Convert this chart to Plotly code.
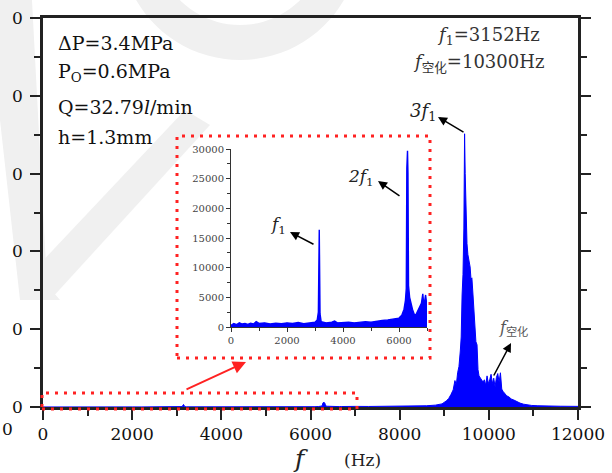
import math
import plotly.graph_objects as go

# ---- spectrum data (frequency in Hz, amplitude) ----
freq_low = [0, 100, 200, 300, 400, 500, 600, 700, 800, 900, 1000, 1200, 1400, 1600,
            1800, 2000, 2200, 2400, 2600, 2800, 3000, 3080, 3120, 3152, 3180, 3220,
            3400, 3600, 3700, 3800, 4000, 4200, 4400, 4600, 4800, 5000, 5200, 5400,
            5600, 5800, 6000, 6100, 6180, 6230, 6260, 6280, 6304, 6320, 6340, 6380,
            6420, 6480, 6540, 6600, 6650, 6700, 6750, 6800, 6850, 6880, 6920, 6950,
            6980, 7000]
amp_low = [300, 600, 400, 700, 500, 600, 450, 650, 500, 900, 600, 700, 500, 650,
           550, 700, 600, 750, 550, 700, 800, 1200, 2500, 16400, 2200, 900,
           700, 800, 1000, 700, 750, 800, 700, 850, 900, 800, 1000, 1100,
           1200, 1300, 1500, 2000, 3000, 4500, 6500, 26800, 29700, 26000, 7000, 5000,
           4000, 3000, 2200, 2000, 2500, 3000, 3500, 4000, 5600, 4000, 4500, 5400,
           4200, 4000]

freq_high = [7300, 7600, 7900, 8200, 8400, 8600, 8800, 8950, 9050, 9100, 9150, 9200,
             9240, 9270, 9300, 9330, 9360, 9380, 9400, 9420, 9440, 9456, 9470, 9490,
             9510, 9530, 9555, 9580, 9600, 9620, 9645, 9670, 9690, 9710, 9735, 9757,
             9780, 9810, 9840, 9870, 9900, 9930, 9960, 9990, 10020, 10050, 10080,
             10110, 10140, 10170, 10200, 10230, 10260, 10290, 10320, 10360, 10400,
             10450, 10500, 10560, 10620, 10700, 10780, 10870, 10960, 11100, 11300,
             11600, 12000]
amp_high = [3500, 4500, 4000, 5000, 6000, 8000, 12000, 20000, 40000, 55000, 80000, 110000,
            170000, 140000, 220000, 260000, 360000, 450000, 720000, 850000, 1150000, 1756000,
            1500000, 1200000, 1050000, 980000, 940000, 900000, 820000, 830000, 720000,
            600000, 500000, 420000, 400000, 240000, 200000, 185000, 175000, 160000,
            175000, 140000, 200000, 150000, 175000, 210000, 150000, 185000, 130000,
            190000, 215000, 160000, 220000, 115000, 100000, 85000, 72000, 65000, 52000,
            45000, 35000, 25000, 18000, 12000, 10000, 8000, 6000, 5000, 4000]

freq_all = freq_low + freq_high
amp_all = amp_low + amp_high

# ---- axis ticks ----
x_ticks = [0, 2000, 4000, 6000, 8000, 10000, 12000]
x_tick_text = ["0", "2000", "4000", "6000", "8000", "10000", "12000"]
y_ticks = [0, 500000, 1000000, 1500000, 2000000, 2500000]
y_tick_text = ["0", "0", "0", "0", "0", "0"]
inset_x_ticks = [0, 2000, 4000, 6000]
inset_x_text = ["0", "2000", "4000", "6000"]
inset_y_ticks = [0, 5000, 10000, 15000, 20000, 25000, 30000]
inset_y_text = ["0", "5000", "10000", "15000", "20000", "25000", "30000"]

# ---- frame geometry (pixels) ----
W, H = 612, 473
L, R, T, B = 43, 578, 18, 407


def px(x, y):
    return (x - L) / (R - L), (B - y) / (B - T)


BLUE = "#0000ff"
SERIF = "DejaVu Serif, Noto Sans CJK SC"

fig = go.Figure()
fig.add_trace(go.Scatter(x=freq_all, y=amp_all, mode="lines", fill="tozeroy",
                         line=dict(color=BLUE, width=1), fillcolor=BLUE,
                         hoverinfo="skip", showlegend=False))
fig.add_trace(go.Scatter(x=freq_low, y=amp_low, mode="lines", fill="tozeroy",
                         line=dict(color=BLUE, width=1.4), fillcolor=BLUE,
                         xaxis="x2", yaxis="y2", hoverinfo="skip", showlegend=False))

ix0, iy1 = px(231, 149)
ix1, iy0 = px(427, 327)

fig.update_layout(
    width=W, height=H,
    margin=dict(l=L, r=W - R, t=T, b=H - B, autoexpand=False),
    paper_bgcolor="white", plot_bgcolor="rgba(0,0,0,0)",
    font=dict(family=SERIF, color="black"),
    xaxis=dict(range=[0, 12000], tickvals=x_ticks, ticktext=x_tick_text,
               showgrid=False, zeroline=False, automargin=False,
               showline=True, linecolor="#222", linewidth=2.5, mirror=True,
               ticks="outside", ticklen=10, tickwidth=2, tickcolor="#222",
               minor=dict(dtick=1000, ticks="outside", ticklen=6, tickwidth=2, tickcolor="#222"),
               tickfont=dict(family=SERIF, size=17, color="#111")),
    yaxis=dict(range=[0, 2500000], tickvals=y_ticks, ticktext=y_tick_text,
               showgrid=False, zeroline=False, automargin=False,
               showline=True, linecolor="#222", linewidth=2.5, mirror="ticks",
               ticks="outside", ticklen=10, tickwidth=2, tickcolor="#222",
               ticklabelstandoff=4,
               minor=dict(dtick=250000, ticks="outside", ticklen=6, tickwidth=2, tickcolor="#222"),
               tickfont=dict(family=SERIF, size=17, color="#111")),
    xaxis2=dict(domain=[ix0, ix1], anchor="y2", range=[0, 7000], automargin=False,
                tickvals=inset_x_ticks, ticktext=inset_x_text,
                showgrid=False, zeroline=False, showline=True, linecolor="#333", linewidth=1,
                ticks="outside", ticklen=4, tickwidth=1, tickcolor="#333",
                minor=dict(dtick=1000, ticks="outside", ticklen=3, tickwidth=1, tickcolor="#333"),
                tickfont=dict(family=SERIF, size=10, color="#444")),
    yaxis2=dict(domain=[iy0, iy1], anchor="x2", range=[0, 30000], automargin=False,
                tickvals=inset_y_ticks, ticktext=inset_y_text,
                showgrid=False, zeroline=False, showline=True, linecolor="#333", linewidth=1,
                ticks="outside", ticklen=4, tickwidth=1, tickcolor="#333",
                minor=dict(dtick=2500, ticks="outside", ticklen=3, tickwidth=1, tickcolor="#333"),
                tickfont=dict(family=SERIF, size=10, color="#444")),
)

shapes = []
GREY = "#f0f0f0"


def path_px(points):
    parts = []
    for i, (x, y) in enumerate(points):
        u, v = px(x, y)
        parts.append(("M" if i == 0 else "L") + f"{u:.4f},{v:.4f}")
    return " ".join(parts) + " Z"


# faint background emblem
shapes.append(dict(type="path", xref="paper", yref="paper", layer="below",
                   path=path_px([(0, 0), (32, 0), (47, 285), (60, 300), (20, 300), (0, 120)]),
                   fillcolor=GREY, line=dict(width=0)))
shapes.append(dict(type="path", xref="paper", yref="paper", layer="below",
                   path=path_px([(20, 285), (185, 110), (210, 125), (50, 300)]),
                   fillcolor=GREY, line=dict(width=0)))
ring = []
cx, cy, ro, ri = 240, -60, 120, 85
for k in range(0, 31):
    a = math.radians(30 + 120 * k / 30)
    ring.append((cx + ro * math.cos(a), cy + ro * math.sin(a)))
for k in range(30, -1, -1):
    a = math.radians(30 + 120 * k / 30)
    ring.append((cx + ri * math.cos(a), cy + ri * math.sin(a)))
shapes.append(dict(type="path", xref="paper", yref="paper", layer="below",
                   path=path_px(ring), fillcolor=GREY, line=dict(width=0)))

# dotted red zoom boxes
for (x0, y0, x1, y1) in [(42, 393, 357, 409), (177, 136, 430, 358)]:
    u0, v0 = px(x0, y1)
    u1, v1 = px(x1, y0)
    shapes.append(dict(type="rect", xref="paper", yref="paper", x0=u0, y0=v0, x1=u1, y1=v1,
                       line=dict(color="#ff2222", width=3, dash="3px,6px")))
fig.update_layout(shapes=shapes)

ann = []


def text_px(x, y, s, size, color="#111", anchor="left"):
    u, v = px(x, y)
    ann.append(dict(xref="paper", yref="paper", x=u, y=v, text=s, showarrow=False,
                    xanchor=anchor, yanchor="middle",
                    font=dict(family=SERIF, size=size, color=color)))


def arrow_px(hx, hy, tx, ty, color="black", width=1.5, size=1.2):
    u, v = px(hx, hy)
    ann.append(dict(xref="paper", yref="paper", x=u, y=v, ax=tx - hx, ay=ty - hy,
                    text="", showarrow=True, arrowhead=2, arrowsize=size,
                    arrowwidth=width, arrowcolor=color, standoff=0))


text_px(56, 43, "ΔP=3.4MPa", 19)
text_px(56, 72, "P<sub>O</sub>=0.6MPa", 19)
text_px(56, 107, "Q=32.79<i>l</i>/min", 19)
text_px(56, 137, "h=1.3mm", 19)
text_px(435, 36, "<i>f</i><sub>1</sub>=3152Hz", 18, "#333")
text_px(411, 63, "<i>f</i><sub>空化</sub>=10300Hz", 18, "#333")
text_px(408, 112, "<i>3f</i><sub>1</sub>", 18, "#222")
text_px(346, 178, "<i>2f</i><sub>1</sub>", 17, "#222")
text_px(268, 226, "<i>f</i><sub>1</sub>", 17, "#222")
text_px(497, 328, "<i>f</i><sub>空化</sub>", 16, "#555")
text_px(0, 429, "0", 17)
text_px(300, 458, "<i>f</i>", 25, "#222", "center")
text_px(362, 460, "(Hz)", 17, "#222", "center")

arrow_px(438, 117, 465, 133)
arrow_px(378, 181, 401, 197)
arrow_px(290, 232, 315, 245)
arrow_px(511, 343, 493, 377)
arrow_px(246, 362, 185, 390, color="#ff2222", width=2, size=1.3)

fig.update_layout(annotations=ann)
fig.write_html("out.html")
